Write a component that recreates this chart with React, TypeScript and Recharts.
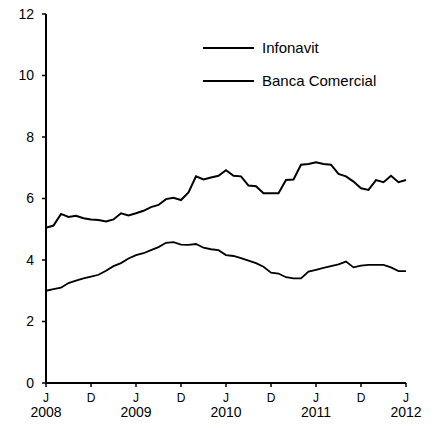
import React from "react";
import { Legend, Line, LineChart, XAxis, YAxis } from "recharts";

// monthly values, Jan 2008 .. Jan 2012
const infonavit: number[] = [
  5.05, 5.12, 5.5, 5.4, 5.44, 5.36, 5.32, 5.3, 5.25, 5.32, 5.52, 5.45, 5.52,
  5.6, 5.72, 5.79, 5.98, 6.02, 5.95, 6.2, 6.72, 6.62, 6.68, 6.74, 6.92,
  6.74, 6.72, 6.42, 6.4, 6.17, 6.17, 6.17, 6.6, 6.62, 7.1, 7.12, 7.18,
  7.12, 7.1, 6.8, 6.72, 6.55, 6.33, 6.28, 6.6, 6.53, 6.74, 6.53, 6.6,
];
const bancaComercial: number[] = [
  3.0, 3.05, 3.1, 3.25, 3.33, 3.4, 3.46, 3.52, 3.65, 3.8, 3.9, 4.05, 4.16,
  4.22, 4.32, 4.42, 4.56, 4.58, 4.5, 4.49, 4.52, 4.4, 4.35, 4.32, 4.16,
  4.13, 4.06, 3.98, 3.9, 3.78, 3.59, 3.56, 3.44, 3.4, 3.4, 3.62, 3.68,
  3.74, 3.8, 3.86, 3.95, 3.76, 3.82, 3.84, 3.84, 3.84, 3.76, 3.64, 3.64,
];

const seriesNames = ["Infonavit", "Banca Comercial"];
const xTicks = [0, 6, 12, 18, 24, 30, 36, 42, 48];
const xTickLabels = ["J", "D", "J", "D", "J", "D", "J", "D", "J"];
const xTickYears = ["2008", "", "2009", "", "2010", "", "2011", "", "2012"];
const yTicks = [0, 2, 4, 6, 8, 10, 12];

const data = infonavit.map((v, i) => ({
  m: i,
  infonavit: v,
  banca: bancaComercial[i],
}));

const FONT = "'Liberation Sans', Arial, sans-serif";

const XTick = (props: any) => {
  const { x, y, payload } = props;
  const i = xTicks.indexOf(payload.value);
  return (
    <g transform={`translate(${x},${y})`}>
      <text x={0} y={15} textAnchor="middle" fontSize={12} fill="#000" fontFamily={FONT}>
        {xTickLabels[i]}
      </text>
      {xTickYears[i] && (
        <text x={0} y={30} textAnchor="middle" fontSize={14} fill="#000" fontFamily={FONT}>
          {xTickYears[i]}
        </text>
      )}
    </g>
  );
};

const LegendBox = (props: any) => {
  const items = [...(props.payload || [])].sort(
    (a: any, b: any) => seriesNames.indexOf(a.value) - seriesNames.indexOf(b.value)
  );
  return (
    <div style={{ fontFamily: FONT, fontSize: 15, color: "#000" }}>
      {items.map((it: any) => (
        <div key={it.value} style={{ display: "flex", alignItems: "center", height: 33 }}>
          <svg width={51} height={4} style={{ marginRight: 8 }}>
            <line x1={0} y1={2} x2={51} y2={2} stroke="#000" strokeWidth={2} />
          </svg>
          <span>{it.value}</span>
        </div>
      ))}
    </div>
  );
};

export default function App() {
  return (
    <div style={{ position: "absolute", left: 0, top: 0, width: 434, height: 428, background: "#fff" }}>
      <LineChart
        width={434}
        height={428}
        data={data}
        margin={{ top: 14, right: 28, bottom: 15, left: 0 }}
      >
        <XAxis
          dataKey="m"
          type="number"
          domain={[0, 48]}
          ticks={xTicks}
          interval={0}
          height={30}
          tick={<XTick />}
          tickSize={4}
          tickMargin={0}
          axisLine={{ stroke: "#000", strokeWidth: 2 }}
          tickLine={{ stroke: "#000", strokeWidth: 1.5 }}
        />
        <YAxis
          type="number"
          domain={[0, 12]}
          ticks={yTicks}
          interval={0}
          width={46}
          tickSize={4}
          tickMargin={8}
          tick={{ fill: "#000", fontSize: 14, fontFamily: FONT }}
          axisLine={{ stroke: "#000", strokeWidth: 2 }}
          tickLine={{ stroke: "#000", strokeWidth: 1.5 }}
        />
        <Legend
          layout="horizontal"
          verticalAlign="middle"
          content={<LegendBox />}
          wrapperStyle={{ position: "absolute", left: 203, top: 31, width: 200 }}
        />
        <Line
          type="linear"
          dataKey="infonavit"
          name={seriesNames[0]}
          stroke="#000"
          strokeWidth={2}
          dot={false}
          isAnimationActive={false}
        />
        <Line
          type="linear"
          dataKey="banca"
          name={seriesNames[1]}
          stroke="#000"
          strokeWidth={1.8}
          dot={false}
          isAnimationActive={false}
        />
      </LineChart>
    </div>
  );
}
